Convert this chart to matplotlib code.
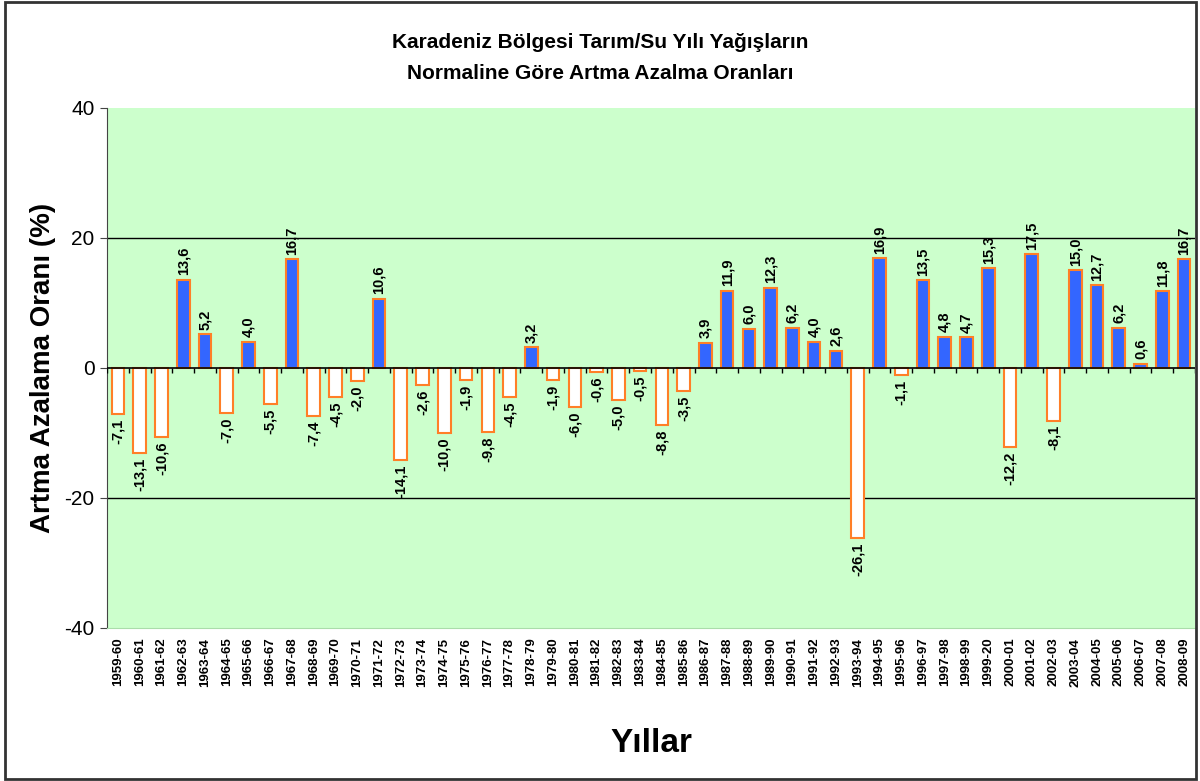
import numpy as np
import matplotlib
matplotlib.use('Agg')
import matplotlib.pyplot as plt
from matplotlib.patches import Rectangle

plt.rcParams['font.family'] = ['Liberation Sans', 'DejaVu Sans']
plt.rcParams['axes.unicode_minus'] = False

years = ['1959-60', '1960-61', '1961-62', '1962-63', '1963-64', '1964-65', '1965-66',
         '1966-67', '1967-68', '1968-69', '1969-70', '1970-71', '1971-72', '1972-73',
         '1973-74', '1974-75', '1975-76', '1976-77', '1977-78', '1978-79', '1979-80',
         '1980-81', '1981-82', '1982-83', '1983-84', '1984-85', '1985-86', '1986-87',
         '1987-88', '1988-89', '1989-90', '1990-91', '1991-92', '1992-93', '1993-94',
         '1994-95', '1995-96', '1996-97', '1997-98', '1998-99', '1999-20', '2000-01',
         '2001-02', '2002-03', '2003-04', '2004-05', '2005-06', '2006-07', '2007-08',
         '2008-09']
values = [-7.1, -13.1, -10.6, 13.6, 5.2, -7.0, 4.0, -5.5, 16.7, -7.4, -4.5, -2.0, 10.6,
          -14.1, -2.6, -10.0, -1.9, -9.8, -4.5, 3.2, -1.9, -6.0, -0.6, -5.0, -0.5, -8.8,
          -3.5, 3.9, 11.9, 6.0, 12.3, 6.2, 4.0, 2.6, -26.1, 16.9, -1.1, 13.5, 4.8, 4.7,
          15.3, -12.2, 17.5, -8.1, 15.0, 12.7, 6.2, 0.6, 11.8, 16.7]

blue = '#3366FF'
orange = '#FF7F27'
bg = '#CCFFCC'

fig = plt.figure(figsize=(12, 7.81), dpi=100)
ax = fig.add_axes([0.0892, 0.196, 0.9066, 0.6658])
ax.set_facecolor(bg)

x = np.arange(len(values))
vals = np.array(values)
colors = [blue if v >= 0 else 'white' for v in vals]
ax.bar(x, vals, width=0.58, color=colors, edgecolor=orange, linewidth=1.5, zorder=3)

# etiketler
for xi, v in zip(x, vals):
    txt = f'{v:.1f}'.replace('.', ',')
    if v >= 0:
        ax.text(xi, v + 0.7, txt, rotation=90, ha='center', va='bottom',
                fontsize=10.5, fontweight='bold', zorder=4)
    else:
        ax.text(xi, v - 0.7, txt, rotation=90, ha='center', va='top',
                fontsize=10.5, fontweight='bold', zorder=4)

ax.set_xlim(-0.5, len(values) - 0.5)
ax.set_ylim(-40, 40)
ax.set_yticks([-40, -20, 0, 20, 40])
ax.tick_params(axis='y', labelsize=15, length=5, color='#444444', pad=4)
for g in [-20, 20]:
    ax.axhline(g, color='black', linewidth=1, zorder=1)
ax.axhline(0, color='black', linewidth=1.2, zorder=4)
# kategori sinirlari (sifir cizgisi uzerinde)
ax.vlines(np.arange(len(values) + 1) - 0.5, -0.8, 0, color='black', linewidth=1, zorder=4)

ax.set_xticks(x)
ax.set_xticklabels(years, rotation=90, fontsize=9.5, fontweight='bold')
ax.tick_params(axis='x', length=0, pad=7)

for s in ['top', 'right']:
    ax.spines[s].set_visible(False)
ax.spines['bottom'].set_color('#aaddaa')
ax.spines['left'].set_color('#444444')

ax.set_ylabel('Artma Azalama Oranı (%)', fontsize=20, fontweight='bold', labelpad=6)
ax.set_xlabel('Yıllar', fontsize=24, fontweight='bold', labelpad=30)

fig.text(0.5, 0.945, 'Karadeniz Bölgesi Tarım/Su Yılı Yağışların', ha='center', va='center',
         fontsize=15, fontweight='bold')
fig.text(0.5, 0.906, 'Normaline Göre Artma Azalma Oranları', ha='center', va='center',
         fontsize=15, fontweight='bold')

# dis cerceve
fig.patches.append(Rectangle((0.004, 0.003), 0.993, 0.994, transform=fig.transFigure,
                             fill=False, edgecolor='#333333', linewidth=2))

fig.savefig('out.png', dpi=100)
